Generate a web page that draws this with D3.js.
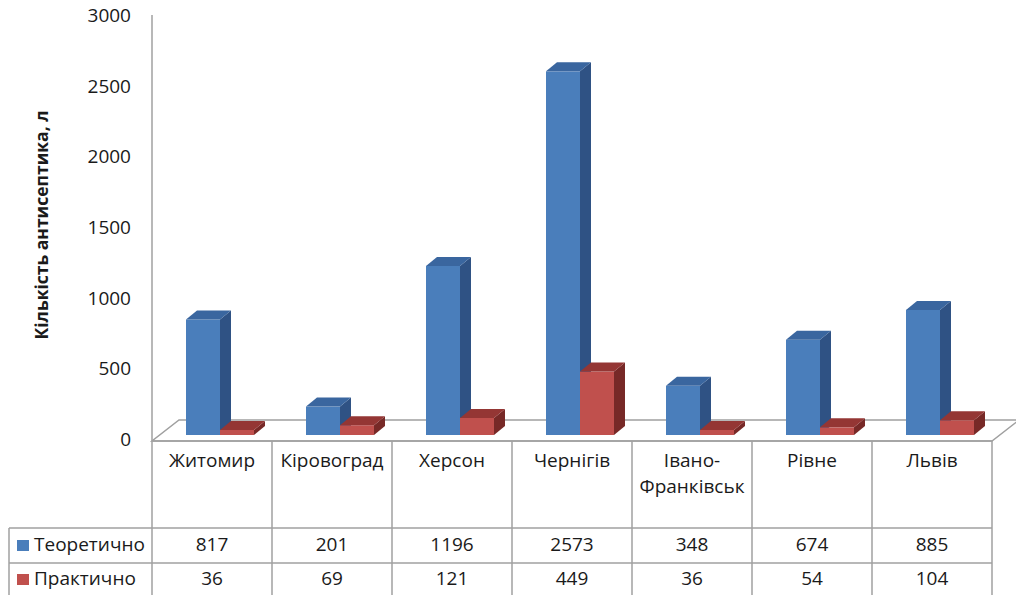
<!DOCTYPE html>
<html lang="uk">
<head>
<meta charset="UTF-8">
<title>Кількість антисептика</title>
<script src="https://d3js.org/d3.v7.min.js"></script>
<style>
  body { margin: 0; background: #fff; }
  svg { display: block; font-family: "Open Sans", "Noto Sans", sans-serif; }
</style>
</head>
<body>
<div id="chart"></div>
<script>
const categories = ['Житомир', 'Кіровоград', 'Херсон', 'Чернігів', 'Івано-Франківськ', 'Рівне', 'Львів'];
const catLines = [['Житомир'], ['Кіровоград'], ['Херсон'], ['Чернігів'], ['Івано-', 'Франківськ'], ['Рівне'], ['Львів']];
const theoretical = [817, 201, 1196, 2573, 348, 674, 885];
const practical = [36, 69, 121, 449, 36, 54, 104];
const seriesNames = ['Теоретично', 'Практично'];
const yTicks = [0, 500, 1000, 1500, 2000, 2500, 3000];

const width = 1016, height = 595;
const left = 152, right = 992;
const floorY = 441;
const gridColor = '#a0a0a0';

const colors = [
  { front: '#4a7ebb', side: '#2f5284', top: '#3a669f' },
  { front: '#c0504d', side: '#772927', top: '#943634' }
];

const svg = d3.select('#chart').append('svg')
  .attr('width', width).attr('height', height);

const y = d3.scaleLinear().domain([0, 3000]).range([floorY, 17]);
const x = d3.scaleBand().domain(categories).range([left, right]);

// floor depth and bar placement inside it
const depth = { dx: 27, dy: -21 };
const barShift = { dx: 8, dy: -6 };
const barW = 34;
const barD = { dx: 11, dy: -9 };

// floor
svg.append('path')
  .attr('d', `M${left},${floorY} L${right},${floorY} L${right + depth.dx},${floorY + depth.dy} L${left + depth.dx},${floorY + depth.dy} Z`)
  .attr('fill', '#fff').attr('stroke', gridColor).attr('stroke-width', 1.5);

// value axis line
svg.append('line')
  .attr('x1', left).attr('x2', left).attr('y1', 15).attr('y2', floorY)
  .attr('stroke', gridColor).attr('stroke-width', 1.5);

svg.append('g').selectAll('text')
  .data(yTicks).enter().append('text')
  .attr('x', 131).attr('y', d => y(d))
  .attr('text-anchor', 'end').attr('dominant-baseline', 'middle')
  .attr('font-size', 19).attr('fill', '#1a1a1a')
  .text(d => d);

svg.append('text')
  .attr('transform', `translate(48,225) rotate(-90)`)
  .attr('text-anchor', 'middle')
  .attr('font-size', 17.5).attr('font-weight', 'bold').attr('fill', '#1a1a1a')
  .text('Кількість антисептика, л');

// bars
const bars = [];
categories.forEach((c, i) => {
  [theoretical[i], practical[i]].forEach((v, s) => {
    bars.push({ c, v, s });
  });
});

const gBars = svg.append('g');
bars.forEach(d => {
  const x0 = x(d.c) + 26 + barShift.dx + d.s * barW;
  const x1 = x0 + barW;
  const yb = floorY + barShift.dy;
  const yt = y(d.v) + barShift.dy;
  const col = colors[d.s];
  gBars.append('rect')
    .attr('x', x0).attr('y', yt).attr('width', barW).attr('height', yb - yt)
    .attr('fill', col.front);
  gBars.append('path')
    .attr('d', `M${x1},${yt} L${x1 + barD.dx},${yt + barD.dy} L${x1 + barD.dx},${yb + barD.dy} L${x1},${yb} Z`)
    .attr('fill', col.side);
  gBars.append('path')
    .attr('d', `M${x0},${yt} L${x0 + barD.dx},${yt + barD.dy} L${x1 + barD.dx},${yt + barD.dy} L${x1},${yt} Z`)
    .attr('fill', col.top);
});

// data table
const rowTop = 528, rowMid = 563, rowBot = 598;
const table = svg.append('g').attr('stroke', gridColor).attr('stroke-width', 1.5);
table.append('line').attr('x1', left).attr('x2', right).attr('y1', floorY).attr('y2', floorY);
[rowTop, rowMid, rowBot].forEach(yy => {
  table.append('line').attr('x1', 9).attr('x2', right).attr('y1', yy).attr('y2', yy);
});
table.append('line').attr('x1', 9).attr('x2', 9).attr('y1', rowTop).attr('y2', rowBot);
categories.forEach(c => {
  table.append('line').attr('x1', x(c)).attr('x2', x(c)).attr('y1', floorY).attr('y2', rowBot);
});
table.append('line').attr('x1', right).attr('x2', right).attr('y1', floorY).attr('y2', rowBot);

const txt = svg.append('g').attr('font-size', 19).attr('fill', '#1a1a1a');
categories.forEach((c, i) => {
  catLines[i].forEach((ln, j) => {
    txt.append('text')
      .attr('x', x(c) + x.bandwidth() / 2).attr('y', 462 + j * 26)
      .attr('text-anchor', 'middle').attr('dominant-baseline', 'middle')
      .text(ln);
  });
  [theoretical[i], practical[i]].forEach((v, s) => {
    txt.append('text')
      .attr('x', x(c) + x.bandwidth() / 2).attr('y', s === 0 ? 546 : 580)
      .attr('text-anchor', 'middle').attr('dominant-baseline', 'middle')
      .text(v);
  });
});

seriesNames.forEach((n, s) => {
  const yy = s === 0 ? 546 : 580;
  svg.append('rect').attr('x', 17).attr('y', yy - 6).attr('width', 12).attr('height', 11)
    .attr('fill', colors[s].front);
  txt.append('text').attr('x', 34).attr('y', yy)
    .attr('dominant-baseline', 'middle').text(n);
});
</script>
</body>
</html>
